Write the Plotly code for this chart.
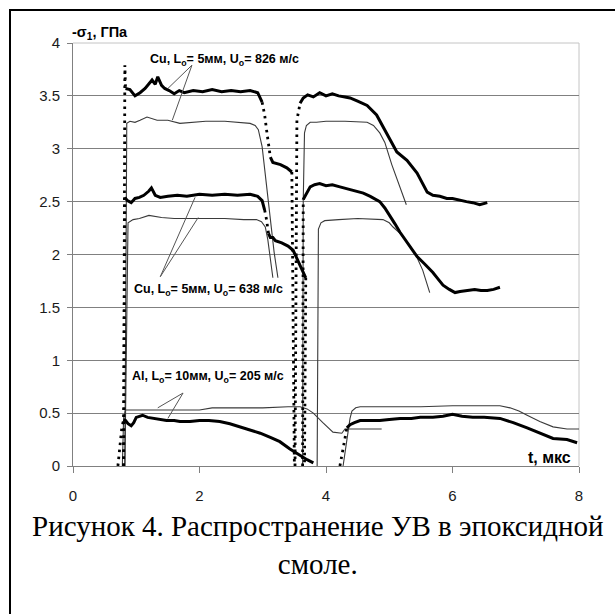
import plotly.graph_objects as go

# ---------------- data ----------------
# Cu, L0=5 mm, U0=826 m/s : experiment, gauge 1 and gauge 2
cu826_exp1_t = [0.80, 0.82, 0.83, 0.90, 0.98, 1.06, 1.14, 1.20, 1.25, 1.30, 1.34, 1.40, 1.45, 1.52,
                1.60, 1.68, 1.76, 1.90, 2.05, 2.20, 2.35, 2.50, 2.65, 2.80, 2.92, 2.99, 3.03, 3.06,
                3.09, 3.12, 3.16, 3.28, 3.38, 3.46, 3.50]
cu826_exp1_s = [0.00, 3.79, 3.57, 3.56, 3.50, 3.53, 3.57, 3.62, 3.65, 3.61, 3.68, 3.60, 3.57, 3.55,
                3.52, 3.55, 3.53, 3.55, 3.54, 3.56, 3.54, 3.55, 3.54, 3.55, 3.53, 3.44, 3.32, 3.18,
                3.04, 2.92, 2.87, 2.85, 2.82, 2.78, 0.00]
cu826_exp2_t = [3.51, 3.54, 3.59, 3.64, 3.71, 3.80, 3.90, 4.00, 4.10, 4.20, 4.30, 4.38, 4.50, 4.65,
                4.80, 4.96, 5.12, 5.28, 5.44, 5.60, 5.69, 5.80, 5.91, 6.00, 6.12, 6.22, 6.32, 6.43, 6.55]
cu826_exp2_s = [0.00, 3.27, 3.43, 3.48, 3.51, 3.49, 3.53, 3.50, 3.52, 3.50, 3.49, 3.48, 3.45, 3.41,
                3.32, 3.15, 2.97, 2.89, 2.77, 2.59, 2.56, 2.55, 2.53, 2.53, 2.51, 2.50, 2.49, 2.47, 2.49]
# model
cu826_mod1_t = [0.82, 0.84, 0.85, 0.90, 0.98, 1.06, 1.17, 1.33, 1.50, 1.69, 1.85, 2.10, 2.40, 2.64,
                2.80, 2.88, 2.93, 2.99, 3.06, 3.12, 3.18, 3.24]
cu826_mod1_s = [0.00, 2.00, 3.24, 3.26, 3.25, 3.27, 3.30, 3.27, 3.27, 3.24, 3.25, 3.26, 3.26, 3.25,
                3.24, 3.22, 3.18, 3.02, 2.64, 2.30, 2.02, 1.78]
cu826_mod2_t = [3.63, 3.64, 3.66, 3.69, 3.75, 3.85, 4.00, 4.30, 4.65, 4.75, 4.85, 4.93, 5.04, 5.14, 5.22, 5.27]
cu826_mod2_s = [0.00, 2.50, 3.15, 3.22, 3.25, 3.25, 3.26, 3.26, 3.25, 3.22, 3.15, 3.06, 2.85, 2.68, 2.54, 2.47]

# Cu, L0=5 mm, U0=638 m/s
cu638_exp1_t = [0.80, 0.82, 0.86, 0.92, 0.98, 1.05, 1.12, 1.20, 1.24, 1.30, 1.38, 1.50, 1.65, 1.80,
                2.00, 2.20, 2.40, 2.60, 2.80, 2.92, 2.99, 3.03, 3.06, 3.09, 3.12, 3.16, 3.20, 3.30,
                3.40, 3.48, 3.56, 3.62, 3.68, 3.66]
cu638_exp1_s = [0.00, 2.54, 2.51, 2.49, 2.53, 2.54, 2.56, 2.60, 2.63, 2.56, 2.54, 2.55, 2.56, 2.55,
                2.57, 2.56, 2.57, 2.56, 2.57, 2.55, 2.51, 2.42, 2.33, 2.20, 2.16, 2.16, 2.13, 2.11,
                2.08, 2.04, 1.93, 1.85, 1.78, 0.00]
cu638_exp2_t = [3.63, 3.64, 3.70, 3.75, 3.82, 3.90, 4.00, 4.10, 4.22, 4.35, 4.45, 4.59, 4.70, 4.80,
                4.85, 4.93, 5.01, 5.09, 5.17, 5.25, 5.33, 5.44, 5.56, 5.69, 5.77, 5.85, 5.95, 6.04,
                6.12, 6.22, 6.35, 6.45, 6.55, 6.65, 6.75]
cu638_exp2_s = [0.00, 2.52, 2.58, 2.64, 2.66, 2.67, 2.65, 2.66, 2.64, 2.62, 2.60, 2.58, 2.55, 2.52,
                2.50, 2.44, 2.37, 2.29, 2.21, 2.14, 2.07, 1.98, 1.91, 1.83, 1.77, 1.71, 1.67, 1.64,
                1.65, 1.66, 1.67, 1.66, 1.66, 1.67, 1.69]
cu638_mod1_t = [0.82, 0.84, 0.87, 0.95, 1.05, 1.20, 1.40, 1.60, 1.80, 2.10, 2.40, 2.70, 2.90, 2.98,
                3.04, 3.08, 3.12, 3.16]
cu638_mod1_s = [0.00, 1.20, 2.30, 2.33, 2.34, 2.37, 2.35, 2.34, 2.34, 2.34, 2.34, 2.33, 2.33, 2.31,
                2.26, 2.14, 1.98, 1.78]
cu638_mod2_t = [3.86, 3.87, 3.88, 3.92, 3.98, 4.20, 4.50, 4.90, 5.00, 5.06, 5.17, 5.28, 5.41, 5.53, 5.64]
cu638_mod2_s = [0.00, 1.80, 2.24, 2.30, 2.32, 2.33, 2.34, 2.33, 2.30, 2.26, 2.20, 2.12, 2.01, 1.85, 1.64]

# Al, L0=10 mm, U0=205 m/s
al_exp1_t = [0.71, 0.74, 0.77, 0.80, 0.83, 0.87, 0.92, 0.96, 1.00, 1.05, 1.10, 1.18, 1.27, 1.38,
             1.48, 1.60, 1.69, 1.85, 2.00, 2.15, 2.32, 2.48, 2.64, 2.80, 2.96, 3.12, 3.27, 3.43,
             3.59, 3.70, 3.80]
al_exp1_s = [0.00, 0.15, 0.35, 0.44, 0.43, 0.40, 0.38, 0.41, 0.46, 0.47, 0.48, 0.46, 0.45, 0.44,
             0.43, 0.43, 0.42, 0.42, 0.43, 0.43, 0.42, 0.40, 0.37, 0.34, 0.31, 0.27, 0.23, 0.16,
             0.10, 0.06, 0.03]
al_exp2_t = [4.22, 4.27, 4.33, 4.38, 4.45, 4.54, 4.70, 4.85, 5.00, 5.17, 5.35, 5.49, 5.69, 5.85,
             6.00, 6.15, 6.32, 6.50, 6.75, 6.96, 7.18, 7.38, 7.59, 7.81, 7.97]
al_exp2_s = [0.00, 0.18, 0.36, 0.39, 0.41, 0.43, 0.43, 0.43, 0.44, 0.45, 0.45, 0.46, 0.46, 0.47,
             0.49, 0.47, 0.46, 0.46, 0.45, 0.41, 0.36, 0.31, 0.26, 0.25, 0.22]
al_mod1_t = [0.78, 0.80, 0.83, 1.00, 1.50, 2.00, 2.20, 2.60, 3.00, 3.40, 3.59, 3.70, 3.80, 3.95,
             4.11, 4.25, 4.30, 4.88]
al_mod1_s = [0.00, 0.45, 0.53, 0.53, 0.53, 0.53, 0.55, 0.55, 0.55, 0.56, 0.56, 0.54, 0.50, 0.41,
             0.32, 0.31, 0.35, 0.35]
al_mod2_t = [4.27, 4.33, 4.38, 4.41, 4.47, 4.54, 5.00, 5.50, 6.00, 6.50, 6.75, 6.91, 7.05, 7.18,
             7.38, 7.59, 7.81, 8.00]
al_mod2_s = [0.00, 0.25, 0.45, 0.52, 0.55, 0.56, 0.56, 0.56, 0.57, 0.57, 0.57, 0.55, 0.52, 0.48,
             0.42, 0.37, 0.35, 0.35]

y_ticks = [0, 0.5, 1, 1.5, 2, 2.5, 3, 3.5, 4]
y_tick_labels = ["0", "0.5", "1", "1.5", "2", "2.5", "3", "3.5", "4"]
x_ticks = [0, 2, 4, 6, 8]
x_tick_labels = ["0", "2", "4", "6", "8"]

label_826 = "<b>Cu, L<sub>o</sub>= 5мм, U<sub>o</sub>= 826 м/с</b>"
label_638 = "<b>Cu, L<sub>o</sub>= 5мм, U<sub>o</sub>= 638 м/с</b>"
label_al = "<b>Al, L<sub>o</sub>= 10мм, U<sub>o</sub>= 205 м/с</b>"
y_title = "<b>-σ<sub>1</sub>, ГПа</b>"
x_title = "<b>t, мкс</b>"
caption = "Рисунок 4. Распространение УВ в эпоксидной<br>смоле."

# ---------------- figure ----------------
W, H = 615, 614
L, R, T, B = 73, 36, 43, 148
PW, PH = W - L - R, H - T - B


def px(xp):
    return (xp - L) / PW


def py(yp):
    return (H - B - yp) / PH


fig = go.Figure()


def add_experiment(t, s):
    runs = []
    for i in range(len(t) - 1):
        dt = max(abs(t[i + 1] - t[i]), 1e-3)
        steep = abs(s[i + 1] - s[i]) / dt > 2.5
        if runs and runs[-1][0] == steep:
            runs[-1][1].append(i + 1)
        else:
            runs.append([steep, [i, i + 1]])
    for steep, idx in runs:
        fig.add_trace(go.Scatter(
            x=[t[j] for j in idx], y=[s[j] for j in idx], mode="lines",
            line=dict(color="black", width=2.8 if steep else 3,
                      dash="2.5px,4.5px" if steep else "solid"),
            showlegend=False, hoverinfo="skip"))


def add_model(t, s):
    fig.add_trace(go.Scatter(x=t, y=s, mode="lines",
                             line=dict(color="#3a3a3a", width=1.1),
                             showlegend=False, hoverinfo="skip"))


for t, s in [(cu826_mod1_t, cu826_mod1_s), (cu826_mod2_t, cu826_mod2_s),
             (cu638_mod1_t, cu638_mod1_s), (cu638_mod2_t, cu638_mod2_s),
             (al_mod1_t, al_mod1_s), (al_mod2_t, al_mod2_s)]:
    add_model(t, s)

for t, s in [(cu826_exp1_t, cu826_exp1_s), (cu826_exp2_t, cu826_exp2_s),
             (cu638_exp1_t, cu638_exp1_s), (cu638_exp2_t, cu638_exp2_s),
             (al_exp1_t, al_exp1_s), (al_exp2_t, al_exp2_s)]:
    add_experiment(t, s)

ann_font = dict(family="Liberation Sans, Arial", size=12.5, color="black")
annotations = [
    dict(text=label_826, x=1.19, y=3.84, xref="x", yref="y", xanchor="left", yanchor="middle",
         showarrow=False, font=ann_font),
    dict(text=label_638, x=0.93, y=1.66, xref="x", yref="y", xanchor="left", yanchor="middle",
         showarrow=False, font=ann_font),
    dict(text=label_al, x=0.90, y=0.84, xref="x", yref="y", xanchor="left", yanchor="middle",
         showarrow=False, font=ann_font),
    dict(text=y_title, x=px(70), y=py(33), xref="paper", yref="paper", xanchor="left",
         yanchor="middle", showarrow=False,
         font=dict(family="Liberation Sans, Arial", size=14.5, color="black")),
    dict(text=x_title, x=7.9, y=0.08, xref="x", yref="y", xanchor="right", yanchor="middle",
         showarrow=False, font=dict(family="Liberation Sans, Arial", size=16, color="black")),
    dict(text=caption, x=px(318), y=py(508), xref="paper", yref="paper", xanchor="center",
         yanchor="top", align="center", showarrow=False,
         font=dict(family="Liberation Serif, Times New Roman", size=29, color="black")),
]

pointer = dict(color="#555555", width=1)
shapes = [
    # pointer lines
    dict(type="line", xref="x", yref="y", x0=1.88, y0=3.79, x1=1.50, y1=3.57, line=pointer),
    dict(type="line", xref="x", yref="y", x0=1.88, y0=3.79, x1=1.57, y1=3.27, line=pointer),
    dict(type="line", xref="x", yref="y", x0=1.38, y0=1.79, x1=1.93, y1=2.54, line=pointer),
    dict(type="line", xref="x", yref="y", x0=1.38, y0=1.79, x1=1.98, y1=2.35, line=pointer),
    dict(type="line", xref="x", yref="y", x0=1.74, y0=0.69, x1=1.34, y1=0.55, line=pointer),
    dict(type="line", xref="x", yref="y", x0=1.74, y0=0.69, x1=1.50, y1=0.45, line=pointer),
    # plot-area border (top and right) in light grey
    dict(type="line", xref="paper", yref="paper", x0=0, x1=1, y0=1, y1=1, layer="between",
         line=dict(color="#c4c4c4", width=1)),
    dict(type="line", xref="paper", yref="paper", x0=1, x1=1, y0=0, y1=1, layer="between",
         line=dict(color="#c4c4c4", width=1)),
    # outer frame
    dict(type="rect", xref="paper", yref="paper", x0=px(10), x1=px(660), y0=py(660), y1=py(10),
         line=dict(color="black", width=2)),
]

fig.update_layout(
    width=W, height=H,
    margin=dict(l=L, r=R, t=T, b=B, pad=0),
    paper_bgcolor="white", plot_bgcolor="white",
    showlegend=False,
    annotations=annotations,
    shapes=shapes,
    xaxis=dict(range=[0, 8], tickvals=x_ticks, ticktext=x_tick_labels, showgrid=False,
               zeroline=False, showline=True, linecolor="#808080", linewidth=1,
               ticks="outside", ticklen=6, tickcolor="#808080", ticklabelstandoff=10,
               tickfont=dict(family="Liberation Sans, Arial", size=15, color="#1a1a1a")),
    yaxis=dict(range=[0, 4], tickvals=y_ticks, ticktext=y_tick_labels, showgrid=True,
               gridcolor="#808080", gridwidth=1, zeroline=False, showline=True,
               linecolor="#808080", linewidth=1, ticks="outside", ticklen=5,
               tickcolor="#808080", ticklabelstandoff=4,
               tickfont=dict(family="Liberation Sans, Arial", size=15, color="#1a1a1a")),
)

fig.write_html("out.html")
